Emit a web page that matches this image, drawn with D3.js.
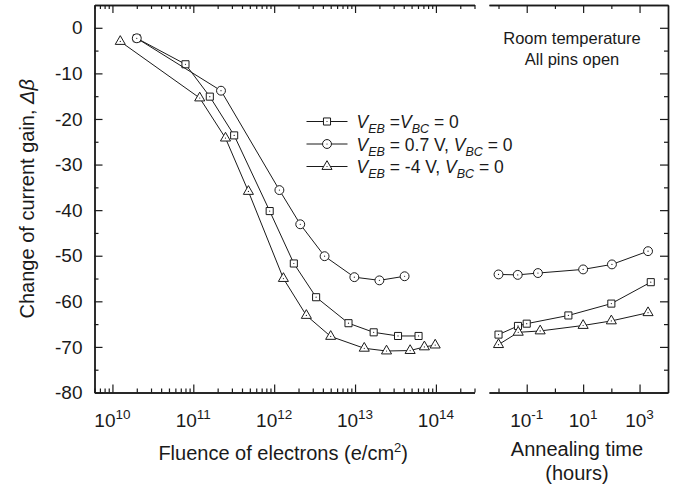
<!DOCTYPE html>
<html>
<head>
<meta charset="utf-8">
<script src="https://cdn.jsdelivr.net/npm/d3@7/dist/d3.min.js"></script>
<style>
  html, body { margin: 0; padding: 0; background: #fff; }
  svg { display: block; font-family: "Liberation Sans", Arial, sans-serif; }
</style>
</head>
<body>
<svg id="chart" width="678" height="488"></svg>
<script>
// ---------- data ----------
const fluenceSquare = [2e10, 8e10, 1.6e11, 3.2e11, 8.8e11, 1.75e12, 3.3e12, 8.3e12, 1.7e13, 3.4e13, 6.1e13];
const gainSquare    = [-2.3, -8.0, -15.1, -23.6, -40.2, -51.7, -59.1, -64.8, -66.8, -67.6, -67.6];

const fluenceCircle = [2e10, 2.2e11, 1.16e12, 2.1e12, 4.2e12, 9.8e12, 2e13, 4.1e13];
const gainCircle    = [-2.3, -13.8, -35.6, -43.1, -50.1, -54.7, -55.4, -54.5];

const fluenceTriangle = [1.25e10, 1.2e11, 2.5e11, 4.8e11, 1.3e12, 2.5e12, 5e12, 1.3e13, 2.45e13, 4.8e13, 7.2e13, 9.8e13];
const gainTriangle    = [-3.0, -15.4, -24.2, -35.9, -55.0, -63.1, -67.7, -70.3, -70.9, -70.8, -70.0, -69.6];

const annealSquare   = [0.01, 0.049, 0.1, 3, 100, 2500];
const annealGainSq   = [-67.3, -65.4, -64.9, -63.1, -60.5, -55.8];
const annealCircle   = [0.01, 0.048, 0.25, 10, 105, 2000];
const annealGainCi   = [-54.1, -54.2, -53.8, -53.0, -51.9, -49.0];
const annealTriangle = [0.01, 0.05, 0.3, 10, 100, 2000];
const annealGainTr   = [-69.5, -66.8, -66.5, -65.3, -64.3, -62.5];

const gainTicks = [0, -10, -20, -30, -40, -50, -60, -70, -80];
const gainMinorTicks = [-5, -15, -25, -35, -45, -55, -65, -75];
const fluenceTicks = [1e10, 1e11, 1e12, 1e13, 1e14];
const fluenceTickExp = ["10", "11", "12", "13", "14"];
const annealTicks = [0.1, 10, 1000];
const annealTickExp = ["-1", "1", "3"];
const annealMinorTicks = [0.01, 1, 100];

const legendLabels = [
  [["V", "i"], ["EB", "s"], [" =", ""], ["V", "i"], ["BC", "s"], [" = 0", ""]],
  [["V", "i"], ["EB", "s"], [" = 0.7 V, ", ""], ["V", "i"], ["BC", "s"], [" = 0", ""]],
  [["V", "i"], ["EB", "s"], [" = -4 V, ", ""], ["V", "i"], ["BC", "s"], [" = 0", ""]]
];
const legendShapes = ["square", "circle", "triangle"];

// ---------- layout ----------
const svg = d3.select("#chart");
const ink = "#1a1a1a";
const yTop = 5, yBot = 392.5;
const lx0 = 94.5, lx1 = 474.5;
const rx0 = 489, rx1 = 668;

const y = d3.scaleLinear().domain([-80, 5]).range([yBot, yTop]);
const xL = d3.scaleLog().domain([6e9, 3e14]).range([lx0, lx1]);
const xR = d3.scaleLog().domain([0.0046, 10200]).range([rx0, rx1]);

// minor ticks for the fluence axis
const fluenceMinor = [];
for (let e = 9; e <= 14; e++) for (let m = 2; m <= 9; m++) {
  const v = m * Math.pow(10, e);
  if (v >= 6e9 && v <= 3.01e14) fluenceMinor.push(v);
}

function styleAxis(g) {
  g.selectAll("path.domain").attr("stroke", ink).attr("stroke-width", 1.4);
  g.selectAll(".tick line").attr("stroke", ink).attr("stroke-width", 1.2);
  g.selectAll(".tick text").remove();
}

// ---- left panel axes ----
svg.append("g").attr("transform", `translate(${lx0},0)`)
  .call(d3.axisLeft(y).tickValues(gainMinorTicks).tickSizeInner(-4).tickSizeOuter(0).tickFormat(""))
  .call(styleAxis);
const yAx = svg.append("g").attr("transform", `translate(${lx0},0)`)
  .call(d3.axisLeft(y).tickValues(gainTicks).tickSizeInner(-8).tickSizeOuter(0).tickPadding(12)
    .tickFormat(d => String(d)));
yAx.selectAll("path.domain").attr("stroke", ink).attr("stroke-width", 1.4);
yAx.selectAll(".tick line").attr("stroke", ink).attr("stroke-width", 1.2);
yAx.selectAll(".tick text").attr("font-size", 19).attr("fill", ink)
  .attr("font-family", "'Liberation Sans', Arial, sans-serif");

[["bottom", yBot], ["top", yTop]].forEach(([side, pos]) => {
  const mk = side === "bottom" ? d3.axisBottom : d3.axisTop;
  svg.append("g").attr("transform", `translate(0,${pos})`)
    .call(mk(xL).tickValues(fluenceMinor).tickSizeInner(-4).tickSizeOuter(0).tickFormat(""))
    .call(styleAxis);
  svg.append("g").attr("transform", `translate(0,${pos})`)
    .call(mk(xL).tickValues(fluenceTicks).tickSizeInner(-8).tickSizeOuter(0).tickFormat(""))
    .call(styleAxis);
});

// ---- right panel axes ----
svg.append("g").attr("transform", `translate(${rx1},0)`)
  .call(d3.axisRight(y).tickValues(gainMinorTicks).tickSizeInner(-4).tickSizeOuter(0).tickFormat(""))
  .call(styleAxis);
svg.append("g").attr("transform", `translate(${rx1},0)`)
  .call(d3.axisRight(y).tickValues(gainTicks).tickSizeInner(-8).tickSizeOuter(0).tickFormat(""))
  .call(styleAxis);

[["bottom", yBot], ["top", yTop]].forEach(([side, pos]) => {
  const mk = side === "bottom" ? d3.axisBottom : d3.axisTop;
  svg.append("g").attr("transform", `translate(0,${pos})`)
    .call(mk(xR).tickValues(annealMinorTicks).tickSizeInner(-4).tickSizeOuter(0).tickFormat(""))
    .call(styleAxis);
  svg.append("g").attr("transform", `translate(0,${pos})`)
    .call(mk(xR).tickValues(annealTicks).tickSizeInner(-8).tickSizeOuter(0).tickFormat(""))
    .call(styleAxis);
});

// ---- x tick labels with superscripts ----
function powLabel(x, base, exp) {
  const t = svg.append("text").attr("x", x).attr("y", 427).attr("text-anchor", "middle")
    .attr("font-size", 19).attr("fill", ink);
  t.append("tspan").text(base);
  t.append("tspan").attr("font-size", 13.5).attr("dy", -8).text(exp);
}
fluenceTicks.forEach((v, i) => powLabel(xL(v), "10", fluenceTickExp[i]));
annealTicks.forEach((v, i) => powLabel(xR(v), "10", annealTickExp[i]));

// ---- axis titles ----
const xt = svg.append("text").attr("x", xL(1e12) + 9).attr("y", 460).attr("text-anchor", "middle")
  .attr("font-size", 20).attr("fill", ink);
xt.append("tspan").text("Fluence of electrons (e/cm");
xt.append("tspan").attr("font-size", 13).attr("dy", -8).text("2");
xt.append("tspan").attr("dy", 8).text(")");

svg.append("text").attr("x", 577).attr("y", 456).attr("text-anchor", "middle")
  .attr("font-size", 20).attr("fill", ink).text("Annealing time");
svg.append("text").attr("x", 577).attr("y", 480).attr("text-anchor", "middle")
  .attr("font-size", 20).attr("fill", ink).text("(hours)");

const yt = svg.append("text").attr("transform", `translate(34,${(yTop + yBot) / 2}) rotate(-90)`)
  .attr("text-anchor", "middle").attr("font-size", 20).attr("fill", ink);
yt.append("tspan").text("Change of current gain, ");
yt.append("tspan").attr("font-style", "italic").text("\u0394\u03B2");

// ---- annotation ----
svg.append("text").attr("x", 572).attr("y", 44).attr("text-anchor", "middle")
  .attr("font-size", 16.5).attr("fill", ink).text("Room temperature");
svg.append("text").attr("x", 572).attr("y", 65).attr("text-anchor", "middle")
  .attr("font-size", 16.5).attr("fill", ink).text("All pins open");

// ---- series ----
function markerPath(shape) {
  if (shape === "square") return d3.symbol(d3.symbolSquare, 50)();
  if (shape === "circle") return d3.symbol(d3.symbolCircle, 62)();
  return d3.symbol(d3.symbolTriangle, 44)();
}
function drawSeries(xs, ys, xScale, shape) {
  const pts = xs.map((v, i) => [xScale(v), y(ys[i])]);
  svg.append("path").attr("d", d3.line()(pts)).attr("fill", "none")
    .attr("stroke", ink).attr("stroke-width", 1);
  const g = svg.append("g");
  pts.forEach(p => {
    g.append("path").attr("d", markerPath(shape))
      .attr("transform", `translate(${p[0]},${p[1]})`)
      .attr("fill", "#fff").attr("stroke", ink).attr("stroke-width", 1);
    g.append("circle").attr("cx", p[0]).attr("cy", p[1]).attr("r", 0.6).attr("fill", ink);
  });
}
drawSeries(fluenceSquare, gainSquare, xL, "square");
drawSeries(fluenceTriangle, gainTriangle, xL, "triangle");
drawSeries(fluenceCircle, gainCircle, xL, "circle");
drawSeries(annealSquare, annealGainSq, xR, "square");
drawSeries(annealTriangle, annealGainTr, xR, "triangle");
drawSeries(annealCircle, annealGainCi, xR, "circle");

// ---- legend ----
const legY = [121.5, 144, 166.5];
legendShapes.forEach((shape, i) => {
  const cy = legY[i];
  svg.append("line").attr("x1", 306.5).attr("x2", 347.5).attr("y1", cy).attr("y2", cy)
    .attr("stroke", ink).attr("stroke-width", 1);
  svg.append("path").attr("d", markerPath(shape)).attr("transform", `translate(327,${cy})`)
    .attr("fill", "#fff").attr("stroke", ink).attr("stroke-width", 1);
  svg.append("circle").attr("cx", 327).attr("cy", cy).attr("r", 0.6).attr("fill", ink);
  const t = svg.append("text").attr("x", 356.5).attr("y", cy + 6.5).attr("font-size", 17.5).attr("fill", ink);
  let sub = false;
  legendLabels[i].forEach(([str, kind]) => {
    const s = t.append("tspan").text(str);
    if (kind === "i") { s.attr("font-style", "italic"); if (sub) { s.attr("dy", -5); sub = false; } }
    else if (kind === "s") { s.attr("font-style", "italic").attr("font-size", 12.5).attr("dy", 5); sub = true; }
    else { if (sub) { s.attr("dy", -5); sub = false; } }
  });
});
</script>
</body>
</html>
